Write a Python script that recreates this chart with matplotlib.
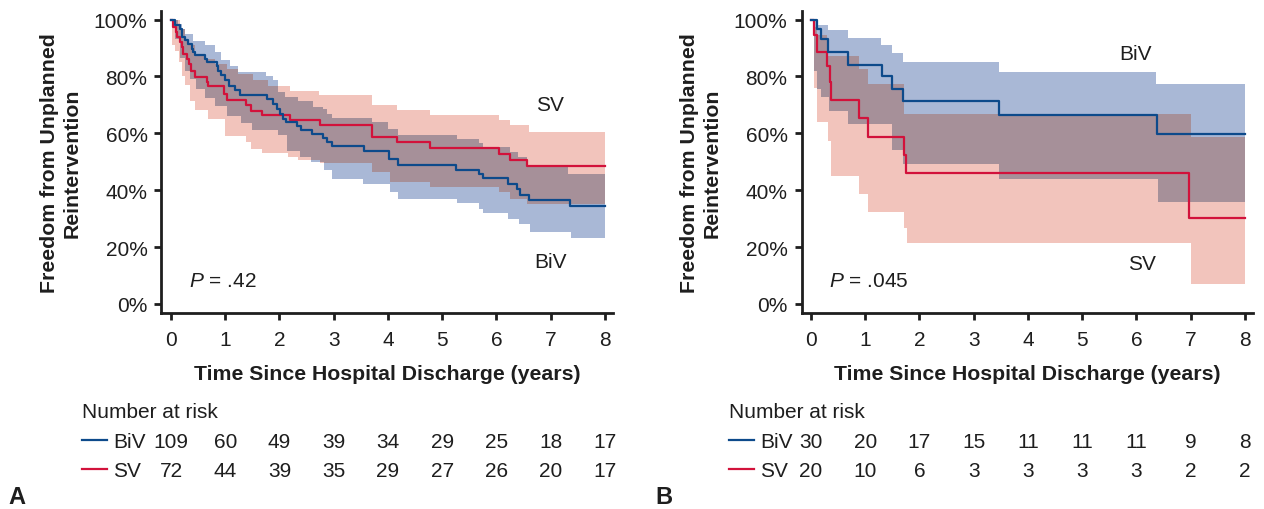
import numpy as np
import matplotlib.pyplot as plt
from matplotlib.lines import Line2D
from matplotlib.transforms import blended_transform_factory

plt.rcParams['font.family'] = ['Liberation Sans', 'DejaVu Sans']
plt.rcParams['mathtext.fontset'] = 'custom'
plt.rcParams['mathtext.rm'] = 'Liberation Sans'
plt.rcParams['mathtext.it'] = 'Liberation Sans:italic'

T_END = 8  # follow-up shown (years)

# ---- Panel A: survival (%), step times in years ----
a_biv_t = [0, 0.07, 0.16, 0.20, 0.26, 0.32, 0.38, 0.41, 0.44, 0.62, 0.66, 0.84, 0.87, 0.93, 0.99,
           1.07, 1.18, 1.27, 1.77, 1.88, 1.95, 2.01, 2.07, 2.12, 2.32, 2.39, 2.60, 2.81, 2.87, 2.96,
           3.55, 4.02, 4.19, 5.26, 5.68, 5.75, 6.21, 6.38, 6.44, 6.61, 7.36]
a_biv_s = [100, 98.0, 96.8, 93.9, 92.7, 91.5, 89.8, 88.6, 87.4, 86.2, 85.0, 83.6, 82.0, 80.4, 78.6,
           76.8, 75.2, 73.4, 72.1, 70.4, 68.6, 66.9, 65.1, 63.9, 62.7, 61.2, 59.8, 58.2, 57.0, 55.4,
           53.8, 50.8, 48.9, 47.1, 45.7, 44.1, 42.2, 40.3, 38.3, 36.5, 34.4]
a_sv_t = [0, 0.04, 0.09, 0.12, 0.17, 0.20, 0.23, 0.29, 0.33, 0.37, 0.44, 0.66, 0.69, 0.98, 1.03,
          1.38, 1.47, 1.67, 2.19, 2.75, 3.70, 4.17, 4.77, 6.05, 6.26, 6.57]
a_sv_s = [100, 97.3, 95.6, 93.8, 92.0, 90.3, 87.9, 86.2, 84.4, 82.0, 79.7, 77.9, 76.6, 73.9, 71.8,
          70.0, 68.0, 66.6, 64.8, 63.0, 58.8, 56.8, 54.8, 52.8, 50.7, 48.4]

# confidence bands A
a_biv_hi_t = [0, 0.13, 0.20, 0.26, 0.41, 0.63, 0.81, 0.93, 1.09, 1.24, 1.76, 1.89, 1.98, 2.10, 2.35,
              2.62, 2.81, 2.87, 2.96, 3.70, 4.01, 4.19, 5.27, 5.68, 5.76, 6.25, 6.39, 6.57, 7.32]
a_biv_hi = [100, 98.5, 96.7, 95.0, 92.6, 90.9, 88.5, 85.6, 83.8, 81.5, 80.3, 78.6, 74.4, 72.8, 71.5,
            69.2, 68.4, 66.9, 65.3, 63.9, 61.6, 59.5, 58.0, 56.5, 55.1, 53.3, 51.6, 48.1, 45.8]
a_biv_lo_t = [0, 0.07, 0.17, 0.26, 0.35, 0.47, 0.63, 0.81, 1.03, 1.30, 1.49, 1.98, 2.13, 2.38,
              2.59, 2.83, 2.96, 3.54, 4.04, 4.19, 5.27, 5.68, 5.76, 6.22, 6.42, 6.62, 7.37]
a_biv_lo = [100, 93, 86.5, 82, 79, 75.5, 72.5, 69.7, 66, 63.5, 61, 59.3, 53.6, 51.7,
            49.9, 47.0, 43.8, 42.3, 39.4, 37.0, 35.5, 33.4, 31.8, 29.9, 28.1, 25.2, 23.2]
a_sv_hi_t = [0, 0.17, 0.26, 0.32, 0.44, 0.63, 0.81, 1.03, 1.24, 1.52, 1.79, 2.19, 2.73, 3.70,
             4.17, 4.77, 6.05, 6.26, 6.60]
a_sv_hi = [100, 96.7, 93.2, 90.9, 87.9, 86.2, 84.4, 82.7, 80.9, 78.6, 76.5, 75.0, 73.6, 69.8,
           68.1, 66.6, 64.7, 62.9, 60.6]
a_sv_lo_t = [0, 0.02, 0.07, 0.14, 0.20, 0.26, 0.35, 0.45, 0.69, 1.00, 1.39, 1.47, 1.67, 2.16,
             2.35, 2.74, 3.70, 4.04, 4.77, 6.05, 6.25, 6.57]
a_sv_lo = [100, 91, 89, 85, 80, 77, 71.5, 68.3, 65, 59, 56.9, 54.5, 53.2, 51.5,
           50.5, 49.5, 46.5, 43.0, 41.0, 39.3, 37.0, 35.2]

# ---- Panel B ----
b_biv_t = [0, 0.12, 0.18, 0.32, 0.69, 1.31, 1.50, 1.70, 3.47, 6.38]
b_biv_s = [100, 96.5, 93.2, 88.5, 83.9, 80.0, 75.6, 71.4, 66.5, 59.8]
b_sv_t = [0, 0.05, 0.12, 0.29, 0.35, 0.37, 0.88, 1.05, 1.71, 1.76, 6.97]
b_sv_s = [100, 94.5, 88.5, 83.5, 78.0, 71.6, 65.2, 58.8, 52.2, 45.9, 30.3]

b_biv_hi_t = [0, 0.135, 0.32, 0.68, 1.30, 1.50, 1.69, 3.47, 6.37]
b_biv_hi = [100, 98.2, 96.2, 93.6, 91.1, 88.2, 85.2, 81.7, 77.2]
b_biv_lo_t = [0, 0.05, 0.12, 0.18, 0.33, 0.69, 1.50, 1.70, 3.47, 6.40]
b_biv_lo = [100, 82, 75.6, 72.7, 68.0, 63.3, 54.0, 49.3, 44.0, 35.9]
b_sv_hi_t = [0, 0.03, 0.11, 0.29, 0.88, 1.06, 1.72, 7.0]
b_sv_hi = [100, 97.3, 94.4, 87.3, 82.7, 77.4, 66.8, 58.6]
b_sv_lo_t = [0, 0.05, 0.12, 0.32, 0.36, 0.89, 1.05, 1.72, 1.77, 7.0]
b_sv_lo = [100, 76, 64, 57.2, 44.9, 38.5, 32.3, 26.7, 21.4, 7.0]

# numbers at risk
risk_years = [0, 1, 2, 3, 4, 5, 6, 7, 8]
a_risk_biv = [109, 60, 49, 39, 34, 29, 25, 18, 17]
a_risk_sv = [72, 44, 39, 35, 29, 27, 26, 20, 17]
b_risk_biv = [30, 20, 17, 15, 11, 11, 11, 9, 8]
b_risk_sv = [20, 10, 6, 3, 3, 3, 3, 2, 2]

BLUE = '#0d4a8b'
RED = '#d2123b'
BLUE_BAND = '#a9b8d6'
RED_BAND = '#f2c4bc'
OVERLAP = '#a69099'
INK = '#1e1e1e'
FS = 15


def step_vals(knots, vals, grid):
    idx = np.searchsorted(knots, grid, side='right') - 1
    return np.asarray(vals, dtype=float)[idx]


def km_panel(ax, biv_t, biv_s, sv_t, sv_s, bhi_t, bhi, blo_t, blo, shi_t, shi, slo_t, slo):
    grid = np.unique(np.concatenate([bhi_t, blo_t, shi_t, slo_t, [T_END]]))
    bh = step_vals(bhi_t, bhi, grid)
    bl = step_vals(blo_t, blo, grid)
    sh = step_vals(shi_t, shi, grid)
    sl = step_vals(slo_t, slo, grid)
    ax.fill_between(grid, bl, bh, step='post', color=BLUE_BAND, lw=0)
    ax.fill_between(grid, sl, sh, step='post', color=RED_BAND, lw=0)
    olo = np.maximum(bl, sl)
    ohi = np.maximum(np.minimum(bh, sh), olo)
    ax.fill_between(grid, olo, ohi, step='post', color=OVERLAP, lw=0)

    ax.step(list(sv_t) + [T_END], list(sv_s) + [sv_s[-1]], where='post', color=RED, lw=1.6)
    ax.step(list(biv_t) + [T_END], list(biv_s) + [biv_s[-1]], where='post', color=BLUE, lw=1.6)

    ax.set_xlim(-0.175, 8.15)
    ax.set_ylim(-3.2, 103)
    ax.set_xticks(risk_years)
    ax.set_yticks([0, 20, 40, 60, 80, 100])
    ax.set_yticklabels(['0%', '20%', '40%', '60%', '80%', '100%'])
    for s in ['top', 'right']:
        ax.spines[s].set_visible(False)
    for s in ['left', 'bottom']:
        ax.spines[s].set_linewidth(2)
        ax.spines[s].set_color(INK)
    ax.tick_params(axis='both', width=2, length=5, labelsize=FS, colors=INK)
    ax.tick_params(axis='x', pad=7)
    ax.tick_params(axis='y', pad=5)
    ax.set_xlabel('Time Since Hospital Discharge (years)', fontsize=15.3, fontweight='bold',
                  labelpad=11, color=INK)
    ax.set_ylabel('Freedom from Unplanned\nReintervention', fontsize=15.3, fontweight='bold',
                  color=INK)
    ax.yaxis.set_label_coords(-0.178, 0.5)


def risk_table(fig, ax, left_px, biv_n, sv_n, letter, letter_px):
    W, H = 1264.0, 510.0
    tr = blended_transform_factory(ax.transData, fig.transFigure)
    fig.text(left_px / W, 1 - 410 / H, 'Number at risk', fontsize=FS, va='center_baseline',
             color=INK)
    for y, name, col, nums in [(441, 'BiV', BLUE, biv_n), (470, 'SV', RED, sv_n)]:
        fig.add_artist(Line2D([left_px / W, (left_px + 25) / W], [1 - y / H] * 2,
                              color=col, lw=1.6, transform=fig.transFigure))
        fig.text((left_px + 31) / W, 1 - y / H, name, fontsize=FS, va='center_baseline',
                 color=INK)
        for t, n in zip(risk_years, nums):
            ax.text(t, 1 - y / H, str(n), transform=tr, fontsize=FS, ha='center',
                    va='center_baseline', color=INK, clip_on=False)
    fig.text(letter_px / W, 0.012, letter, fontsize=17, fontweight='bold', color=INK)


fig = plt.figure(figsize=(12.64, 5.10), dpi=100)
axA = fig.add_axes([161.5 / 1264, 1 - 314 / 510, 451.5 / 1264, 302 / 510])
axB = fig.add_axes([801.5 / 1264, 1 - 314 / 510, 451.5 / 1264, 302 / 510])

km_panel(axA, a_biv_t, a_biv_s, a_sv_t, a_sv_s, a_biv_hi_t, a_biv_hi, a_biv_lo_t, a_biv_lo,
         a_sv_hi_t, a_sv_hi, a_sv_lo_t, a_sv_lo)
km_panel(axB, b_biv_t, b_biv_s, b_sv_t, b_sv_s, b_biv_hi_t, b_biv_hi, b_biv_lo_t, b_biv_lo,
         b_sv_hi_t, b_sv_hi, b_sv_lo_t, b_sv_lo)

axA.text(6.99, 70.2, 'SV', fontsize=FS, ha='center', va='center', color=INK)
axA.text(6.99, 14.9, 'BiV', fontsize=FS, ha='center', va='center', color=INK)
axA.text(0.34, 8.3, '$P$ = .42', fontsize=FS, ha='left', va='center', color=INK)
axB.text(5.99, 88.0, 'BiV', fontsize=FS, ha='center', va='center', color=INK)
axB.text(6.10, 14.1, 'SV', fontsize=FS, ha='center', va='center', color=INK)
axB.text(0.33, 8.3, '$P$ = .045', fontsize=FS, ha='left', va='center', color=INK)

risk_table(fig, axA, 82, a_risk_biv, a_risk_sv, 'A', 8)
risk_table(fig, axB, 729, b_risk_biv, b_risk_sv, 'B', 655)

fig.savefig('out.png', dpi=100)
